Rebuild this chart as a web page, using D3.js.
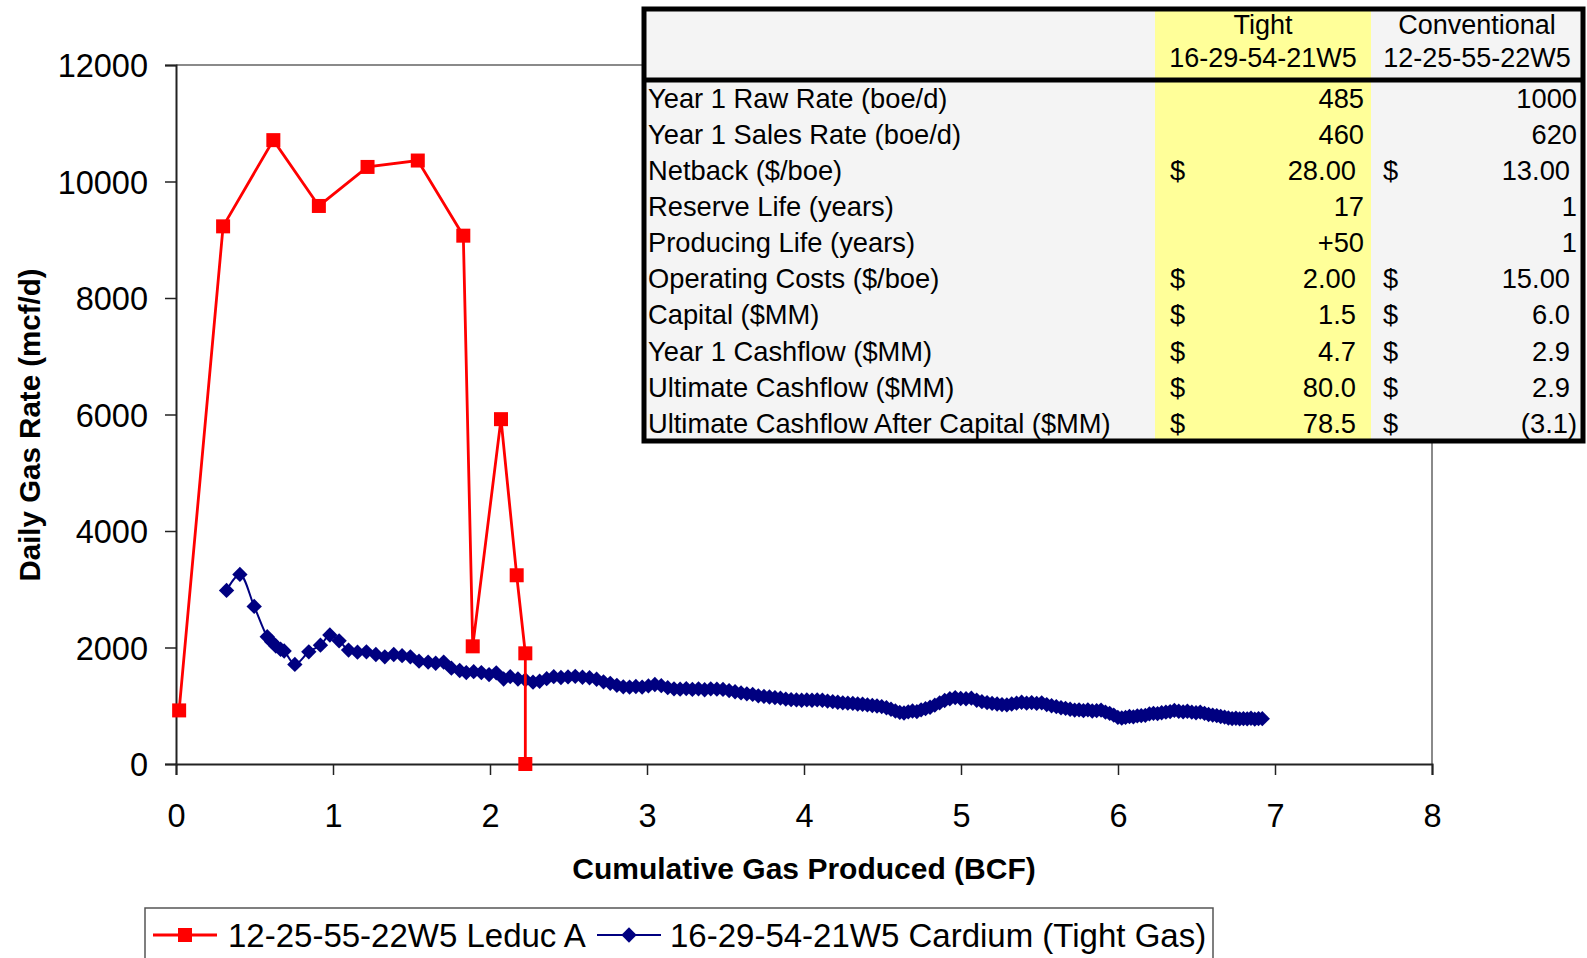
<!DOCTYPE html>
<html>
<head>
<meta charset="utf-8">
<script src="https://cdn.jsdelivr.net/npm/d3@7"></script>
<style>
  body { margin: 0; background: #fff; }
  text { font-family: "Liberation Sans", Arial, sans-serif; }
</style>
</head>
<body>
<div id="chart"></div>
<script>
// Leduc A (conventional) well - cumulative BCF vs daily rate
var leducX = [0.02, 0.30, 0.62, 0.91, 1.22, 1.54, 1.83, 1.89, 2.07, 2.17, 2.225, 2.225];
var leducY = [920, 9230, 10710, 9580, 10250, 10360, 9070, 2020, 5920, 3240, 1900, 0];

// Cardium tight gas well
var cardiumX = [0.322, 0.407, 0.498, 0.581, 0.609, 0.636, 0.666, 0.689, 0.757, 0.846, 0.920, 0.980,
  1.039, 1.099, 1.156, 1.213, 1.273, 1.330, 1.387, 1.440, 1.493, 1.548, 1.606, 1.654, 1.705, 1.754,
  1.807, 1.849, 1.896, 1.945, 1.994, 2.040, 2.087, 2.129, 2.178, 2.225, 2.274, 2.316, 2.361, 2.406,
  2.452, 2.497, 2.543, 2.589, 2.634, 2.679, 2.723, 2.766, 2.808, 2.849, 2.889, 2.929, 2.969, 3.009,
  3.050, 3.091, 3.132, 3.172, 3.211, 3.250, 3.289, 3.328, 3.367, 3.406, 3.445, 3.484, 3.523, 3.561,
  3.599, 3.636, 3.673, 3.709, 3.745, 3.780, 3.815, 3.850, 3.884, 3.918, 3.952, 3.985, 4.018, 4.051,
  4.084, 4.117, 4.150, 4.183, 4.215, 4.247, 4.279, 4.311, 4.342, 4.373, 4.404, 4.435, 4.465, 4.495,
  4.525, 4.554, 4.582, 4.610, 4.637, 4.664, 4.691, 4.719, 4.746, 4.774, 4.803, 4.833, 4.864, 4.896,
  4.929, 4.963, 4.998, 5.032, 5.066, 5.100, 5.133, 5.166, 5.198, 5.230, 5.261, 5.292, 5.323, 5.354,
  5.386, 5.418, 5.450, 5.482, 5.514, 5.546, 5.577, 5.607, 5.637, 5.666, 5.695, 5.724, 5.752, 5.780,
  5.808, 5.836, 5.864, 5.892, 5.920, 5.947, 5.973, 5.999, 6.024, 6.048, 6.073, 6.098, 6.123, 6.148,
  6.174, 6.200, 6.226, 6.252, 6.278, 6.305, 6.332, 6.359, 6.387, 6.415, 6.442, 6.470, 6.497, 6.524,
  6.551, 6.577, 6.603, 6.629, 6.654, 6.679, 6.703, 6.727, 6.751, 6.775, 6.799, 6.823, 6.847, 6.871,
  6.895, 6.919];
var cardiumY = [2980, 3255, 2705, 2185, 2100, 2025, 1970, 1940, 1710, 1925, 2040, 2215,
  2115, 1955, 1920, 1925, 1880, 1840, 1880, 1860, 1840, 1765, 1750, 1730, 1750, 1645,
  1605, 1570, 1585, 1570, 1535, 1565, 1460, 1500, 1460, 1445, 1405, 1420, 1465, 1500,
  1485, 1495, 1505, 1490, 1480, 1455, 1410, 1385, 1350, 1325, 1320, 1330, 1320, 1340,
  1365, 1345, 1310, 1290, 1285, 1295, 1280, 1290, 1275, 1290, 1285, 1280, 1260, 1240,
  1220, 1205, 1195, 1170, 1160, 1150, 1140, 1130, 1115, 1105, 1100, 1095, 1100, 1095,
  1100, 1095, 1080, 1070, 1060, 1050, 1045, 1040, 1030, 1025, 1015, 1005, 995, 985,
  965, 940, 910, 885, 875, 895, 910, 900, 930, 950, 975, 1010, 1050, 1090,
  1120, 1140, 1125, 1120, 1130, 1095, 1070, 1055, 1040, 1030, 1020, 1015, 1030, 1045,
  1060, 1045, 1055, 1040, 1050, 1020, 1000, 985, 965, 955, 940, 925, 930, 915,
  930, 910, 915, 925, 890, 870, 840, 800, 790, 800, 815, 810, 825, 830,
  835, 860, 870, 865, 880, 890, 900, 920, 905, 895, 905, 890, 880, 890,
  870, 850, 840, 830, 815, 805, 790, 780, 785, 775, 780, 775, 785, 770,
  780, 778];

var xTicks = [0, 1, 2, 3, 4, 5, 6, 7, 8];
var yTicks = [0, 2000, 4000, 6000, 8000, 10000, 12000];

// comparison table
var tableHeaders = [["Tight", "16-29-54-21W5"], ["Conventional", "12-25-55-22W5"]];
var rowLabels = ["Year 1 Raw Rate (boe/d)", "Year 1 Sales Rate (boe/d)", "Netback ($/boe)",
  "Reserve Life (years)", "Producing Life (years)", "Operating Costs ($/boe)", "Capital ($MM)",
  "Year 1 Cashflow ($MM)", "Ultimate Cashflow ($MM)", "Ultimate Cashflow After Capital ($MM)"];
var tightValues = ["485", "460", "28.00", "17", "+50", "2.00", "1.5", "4.7", "80.0", "78.5"];
var convValues = ["1000", "620", "13.00", "1", "1", "15.00", "6.0", "2.9", "2.9", "(3.1)"];
var hasDollar = [false, false, true, false, false, true, true, true, true, true];

var W = 1587, H = 958;
var svg = d3.select("#chart").append("svg")
    .attr("width", W)
    .attr("height", H);

var x = d3.scaleLinear().domain([0, 8]).range([176, 1432]);
var y = d3.scaleLinear().domain([0, 12000]).range([764, 65]);

// plot area border (top / right, grey)
svg.append("path")
    .attr("d", "M" + x(0) + "," + y(12000) + "H" + x(8) + "V" + y(0))
    .attr("fill", "none")
    .attr("stroke", "#8a8a8a")
    .attr("stroke-width", 2);

// axes
var xAxis = svg.append("g")
    .attr("transform", "translate(0," + y(0) + ")")
    .call(d3.axisBottom(x).tickValues(xTicks).tickSize(11).tickPadding(29).tickFormat(d3.format("d")));
var yAxis = svg.append("g")
    .attr("transform", "translate(" + x(0) + ",0)")
    .call(d3.axisLeft(y).tickValues(yTicks).tickSize(11).tickPadding(17).tickFormat(d3.format("d")));

[xAxis, yAxis].forEach(function(a) {
    a.select(".domain").attr("stroke", "#222").attr("stroke-width", 2);
    a.selectAll(".tick line").attr("stroke", "#222").attr("stroke-width", 1.5);
    a.selectAll(".tick text")
        .style("font-size", "32.5px")
        .style("font-family", "'Liberation Sans', Arial, sans-serif")
        .attr("fill", "#000");
});
yAxis.selectAll(".tick text").attr("dy", "0.36em");

// axis titles
svg.append("text")
    .attr("x", 804)
    .attr("y", 879)
    .attr("text-anchor", "middle")
    .style("font-size", "30px")
    .style("font-weight", "bold")
    .text("Cumulative Gas Produced (BCF)");

svg.append("text")
    .attr("transform", "translate(40,425) rotate(-90)")
    .attr("text-anchor", "middle")
    .style("font-size", "29.5px")
    .style("font-weight", "bold")
    .text("Daily Gas Rate (mcf/d)");

// series
var cardium = cardiumX.map(function(d, i) { return {x: d, y: cardiumY[i]}; });
var leduc = leducX.map(function(d, i) { return {x: d, y: leducY[i]}; });

var blueLine = d3.line()
    .x(function(d) { return x(d.x); })
    .y(function(d) { return y(d.y); })
    .curve(d3.curveCatmullRom);
var redLine = d3.line()
    .x(function(d) { return x(d.x); })
    .y(function(d) { return y(d.y); });

var diamond = d3.symbol().type(d3.symbolDiamond2).size(150);

svg.append("path")
    .datum(cardium)
    .attr("d", blueLine)
    .attr("fill", "none")
    .attr("stroke", "#000080")
    .attr("stroke-width", 2);

svg.selectAll(".blue-pt")
    .data(cardium)
    .enter().append("path")
    .attr("class", "blue-pt")
    .attr("transform", function(d) { return "translate(" + x(d.x) + "," + y(d.y) + ")"; })
    .attr("d", diamond)
    .attr("fill", "#000080");

svg.append("path")
    .datum(leduc)
    .attr("d", redLine)
    .attr("fill", "none")
    .attr("stroke", "#ff0000")
    .attr("stroke-width", 2.8);

svg.selectAll(".red-pt")
    .data(leduc)
    .enter().append("rect")
    .attr("class", "red-pt")
    .attr("x", function(d) { return x(d.x) - 7; })
    .attr("y", function(d) { return y(d.y) - 7; })
    .attr("width", 14)
    .attr("height", 14)
    .attr("fill", "#ff0000");

// table
var tLeft = 644, tRight = 1583, tTop = 9, tHead = 80, rowH = 36.1;
var c1 = 1155, c2 = 1371;
var tBottom = tHead + rowH * rowLabels.length;
var table = svg.append("g");

table.append("rect")
    .attr("x", tLeft).attr("y", tTop)
    .attr("width", tRight - tLeft).attr("height", tBottom - tTop)
    .attr("fill", "#f4f4f4");
table.append("rect")
    .attr("x", c1).attr("y", tTop)
    .attr("width", c2 - c1).attr("height", tBottom - tTop)
    .attr("fill", "#ffff99");

tableHeaders.forEach(function(h, i) {
    var cx = i === 0 ? (c1 + c2) / 2 : (c2 + tRight) / 2;
    h.forEach(function(t, j) {
        table.append("text")
            .attr("x", cx)
            .attr("y", j === 0 ? 24 : 57)
            .attr("dy", "0.36em")
            .attr("text-anchor", "middle")
            .style("font-size", "27px")
            .text(t);
    });
});

rowLabels.forEach(function(lab, i) {
    var cy = tHead + rowH * (i + 0.5);
    table.append("text")
        .attr("x", 648).attr("y", cy).attr("dy", "0.36em")
        .style("font-size", "27.3px")
        .text(lab);
    var pad = hasDollar[i] ? 1356 : 1364;
    table.append("text")
        .attr("x", pad).attr("y", cy).attr("dy", "0.36em")
        .attr("text-anchor", "end")
        .style("font-size", "27.3px")
        .text(tightValues[i]);
    var cv = convValues[i];
    var pad2 = (hasDollar[i] && cv.charAt(0) !== "(") ? 1570 : 1577;
    table.append("text")
        .attr("x", pad2).attr("y", cy).attr("dy", "0.36em")
        .attr("text-anchor", "end")
        .style("font-size", "27.3px")
        .text(cv);
    if (hasDollar[i]) {
        table.append("text")
            .attr("x", 1170).attr("y", cy).attr("dy", "0.36em")
            .style("font-size", "27.3px")
            .text("$");
        table.append("text")
            .attr("x", 1383).attr("y", cy).attr("dy", "0.36em")
            .style("font-size", "27.3px")
            .text("$");
    }
});

table.append("rect")
    .attr("x", tLeft).attr("y", tTop)
    .attr("width", tRight - tLeft).attr("height", tBottom - tTop)
    .attr("fill", "none")
    .attr("stroke", "#000")
    .attr("stroke-width", 5);
table.append("line")
    .attr("x1", tLeft).attr("x2", tRight)
    .attr("y1", tHead).attr("y2", tHead)
    .attr("stroke", "#000")
    .attr("stroke-width", 5);

// legend
var legend = svg.append("g");
legend.append("rect")
    .attr("x", 145).attr("y", 908)
    .attr("width", 1068).attr("height", 70)
    .attr("fill", "#fff")
    .attr("stroke", "#555")
    .attr("stroke-width", 1.5);

var legendItems = [
    {label: "12-25-55-22W5 Leduc A", color: "#ff0000", x0: 153, tx: 228, shape: "square"},
    {label: "16-29-54-21W5 Cardium (Tight Gas)", color: "#000080", x0: 597, tx: 670, shape: "diamond"}
];
legendItems.forEach(function(d) {
    var ly = 935;
    legend.append("line")
        .attr("x1", d.x0).attr("x2", d.x0 + 64)
        .attr("y1", ly).attr("y2", ly)
        .attr("stroke", d.color)
        .attr("stroke-width", d.shape === "square" ? 2.8 : 2);
    if (d.shape === "square") {
        legend.append("rect")
            .attr("x", d.x0 + 32 - 7).attr("y", ly - 7)
            .attr("width", 14).attr("height", 14)
            .attr("fill", d.color);
    } else {
        legend.append("path")
            .attr("transform", "translate(" + (d.x0 + 32) + "," + ly + ")")
            .attr("d", diamond)
            .attr("fill", d.color);
    }
    legend.append("text")
        .attr("x", d.tx).attr("y", ly).attr("dy", "0.36em")
        .style("font-size", "33px")
        .text(d.label);
});
</script>
</body>
</html>
